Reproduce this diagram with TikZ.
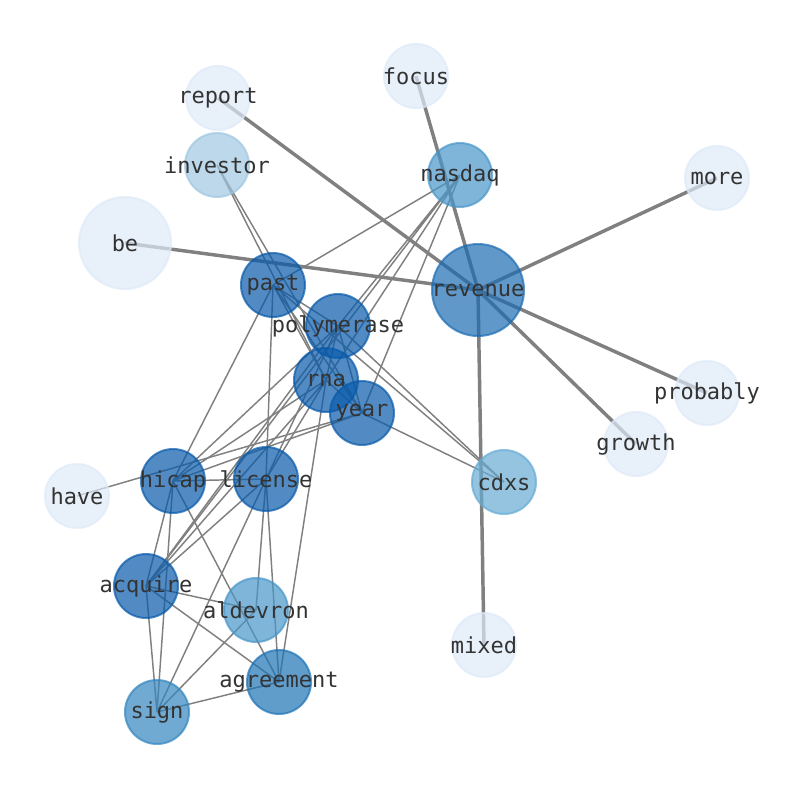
\documentclass[tikz,border=0pt]{standalone}
\usepackage{fontspec}
\setmonofont{DejaVu Sans Mono}
\usetikzlibrary{backgrounds}
\definecolor{lightword}{RGB}{222,234,248}
\definecolor{paleword}{RGB}{159,199,225}
\definecolor{softword}{RGB}{102,171,211}
\definecolor{midword}{RGB}{72,150,201}
\definecolor{signword}{RGB}{51,134,192}
\definecolor{agreeword}{RGB}{30,115,181}
\definecolor{bigword}{RGB}{28,108,178}
\definecolor{darkword}{RGB}{8,90,170}
\definecolor{linkgray}{RGB}{128,128,128}
\definecolor{labelgray}{RGB}{51,51,51}
\begin{document}
\begin{tikzpicture}[x=0.75pt,y=-0.75pt,
  word/.style={circle,draw=#1,fill=#1,fill opacity=0.7,draw opacity=0.7,text opacity=1,
    line width=1.5pt,minimum size=48pt,inner sep=0pt,text=labelgray,
    font=\ttfamily\fontsize{16.5}{18}\selectfont},
  hubword/.style={word=#1,minimum size=69pt},
  link/.style={draw=linkgray,line width=1.1pt},
  mainlink/.style={draw=linkgray,line width=2.6pt}]
\useasboundingbox (0,0) rectangle (794,790);
\node[word=lightword] (report) at (218,98) {\makebox[0pt]{report}};
\node[word=lightword] (focus) at (416,76) {\makebox[0pt]{focus}};
\node[word=paleword] (investor) at (217,165) {\makebox[0pt]{investor}};
\node[word=midword] (nasdaq) at (460,175) {\makebox[0pt]{nasdaq}};
\node[word=lightword] (more) at (717,178) {\makebox[0pt]{more}};
\node[hubword=lightword] (be) at (125,243) {\makebox[0pt]{be}};
\node[word=darkword] (past) at (273,285) {\makebox[0pt]{past}};
\node[hubword=bigword] (revenue) at (478,290) {\makebox[0pt]{revenue}};
\node[word=darkword] (polymerase) at (338,326) {\makebox[0pt]{polymerase}};
\node[word=darkword] (rna) at (326,380) {\makebox[0pt]{rna}};
\node[word=darkword] (year) at (362,413) {\makebox[0pt]{year}};
\node[word=lightword] (probably) at (707,393) {\makebox[0pt]{probably}};
\node[word=lightword] (growth) at (636,444) {\makebox[0pt]{growth}};
\node[word=lightword] (have) at (77,496) {\makebox[0pt]{have}};
\node[word=darkword] (hicap) at (173,481) {\makebox[0pt]{hicap}};
\node[word=darkword] (license) at (266,479) {\makebox[0pt]{license}};
\node[word=softword] (cdxs) at (504,482) {\makebox[0pt]{cdxs}};
\node[word=darkword] (acquire) at (146,586) {\makebox[0pt]{acquire}};
\node[word=midword] (aldevron) at (256,610) {\makebox[0pt]{aldevron}};
\node[word=lightword] (mixed) at (484,645) {\makebox[0pt]{mixed}};
\node[word=agreeword] (agreement) at (279,682) {\makebox[0pt]{agreement}};
\node[word=signword] (sign) at (157,712) {\makebox[0pt]{sign}};
\begin{scope}[on background layer]
\draw[mainlink] (revenue.center) -- (report.center) (revenue.center) -- (focus.center)
  (revenue.center) -- (more.center) (revenue.center) -- (be.center)
  (revenue.center) -- (probably.center) (revenue.center) -- (growth.center)
  (revenue.center) -- (mixed.center);
\draw[link] (investor.center) -- (rna.center) (investor.center) -- (year.center);
\draw[link] (nasdaq.center) -- (past.center) (nasdaq.center) -- (polymerase.center)
  (nasdaq.center) -- (rna.center) (nasdaq.center) -- (year.center)
  (nasdaq.center) -- (acquire.center);
\draw[link] (past.center) -- (polymerase.center) (past.center) -- (rna.center)
  (past.center) -- (year.center) (past.center) -- (cdxs.center)
  (past.center) -- (hicap.center) (past.center) -- (license.center);
\draw[link] (polymerase.center) -- (rna.center) (polymerase.center) -- (year.center)
  (polymerase.center) -- (cdxs.center) (polymerase.center) -- (hicap.center)
  (polymerase.center) -- (license.center) (polymerase.center) -- (acquire.center);
\draw[link] (rna.center) -- (year.center) (rna.center) -- (hicap.center)
  (rna.center) -- (license.center) (rna.center) -- (acquire.center)
  (rna.center) -- (agreement.center);
\draw[link] (year.center) -- (cdxs.center) (year.center) -- (hicap.center)
  (year.center) -- (have.center);
\draw[link] (hicap.center) -- (license.center) (hicap.center) -- (acquire.center)
  (hicap.center) -- (sign.center) (hicap.center) -- (agreement.center);
\draw[link] (license.center) -- (acquire.center) (license.center) -- (aldevron.center)
  (license.center) -- (agreement.center) (license.center) -- (sign.center);
\draw[link] (acquire.center) -- (aldevron.center) (acquire.center) -- (agreement.center)
  (acquire.center) -- (sign.center);
\draw[link] (sign.center) -- (aldevron.center) (sign.center) -- (agreement.center);
\end{scope}
\end{tikzpicture}
\end{document}
